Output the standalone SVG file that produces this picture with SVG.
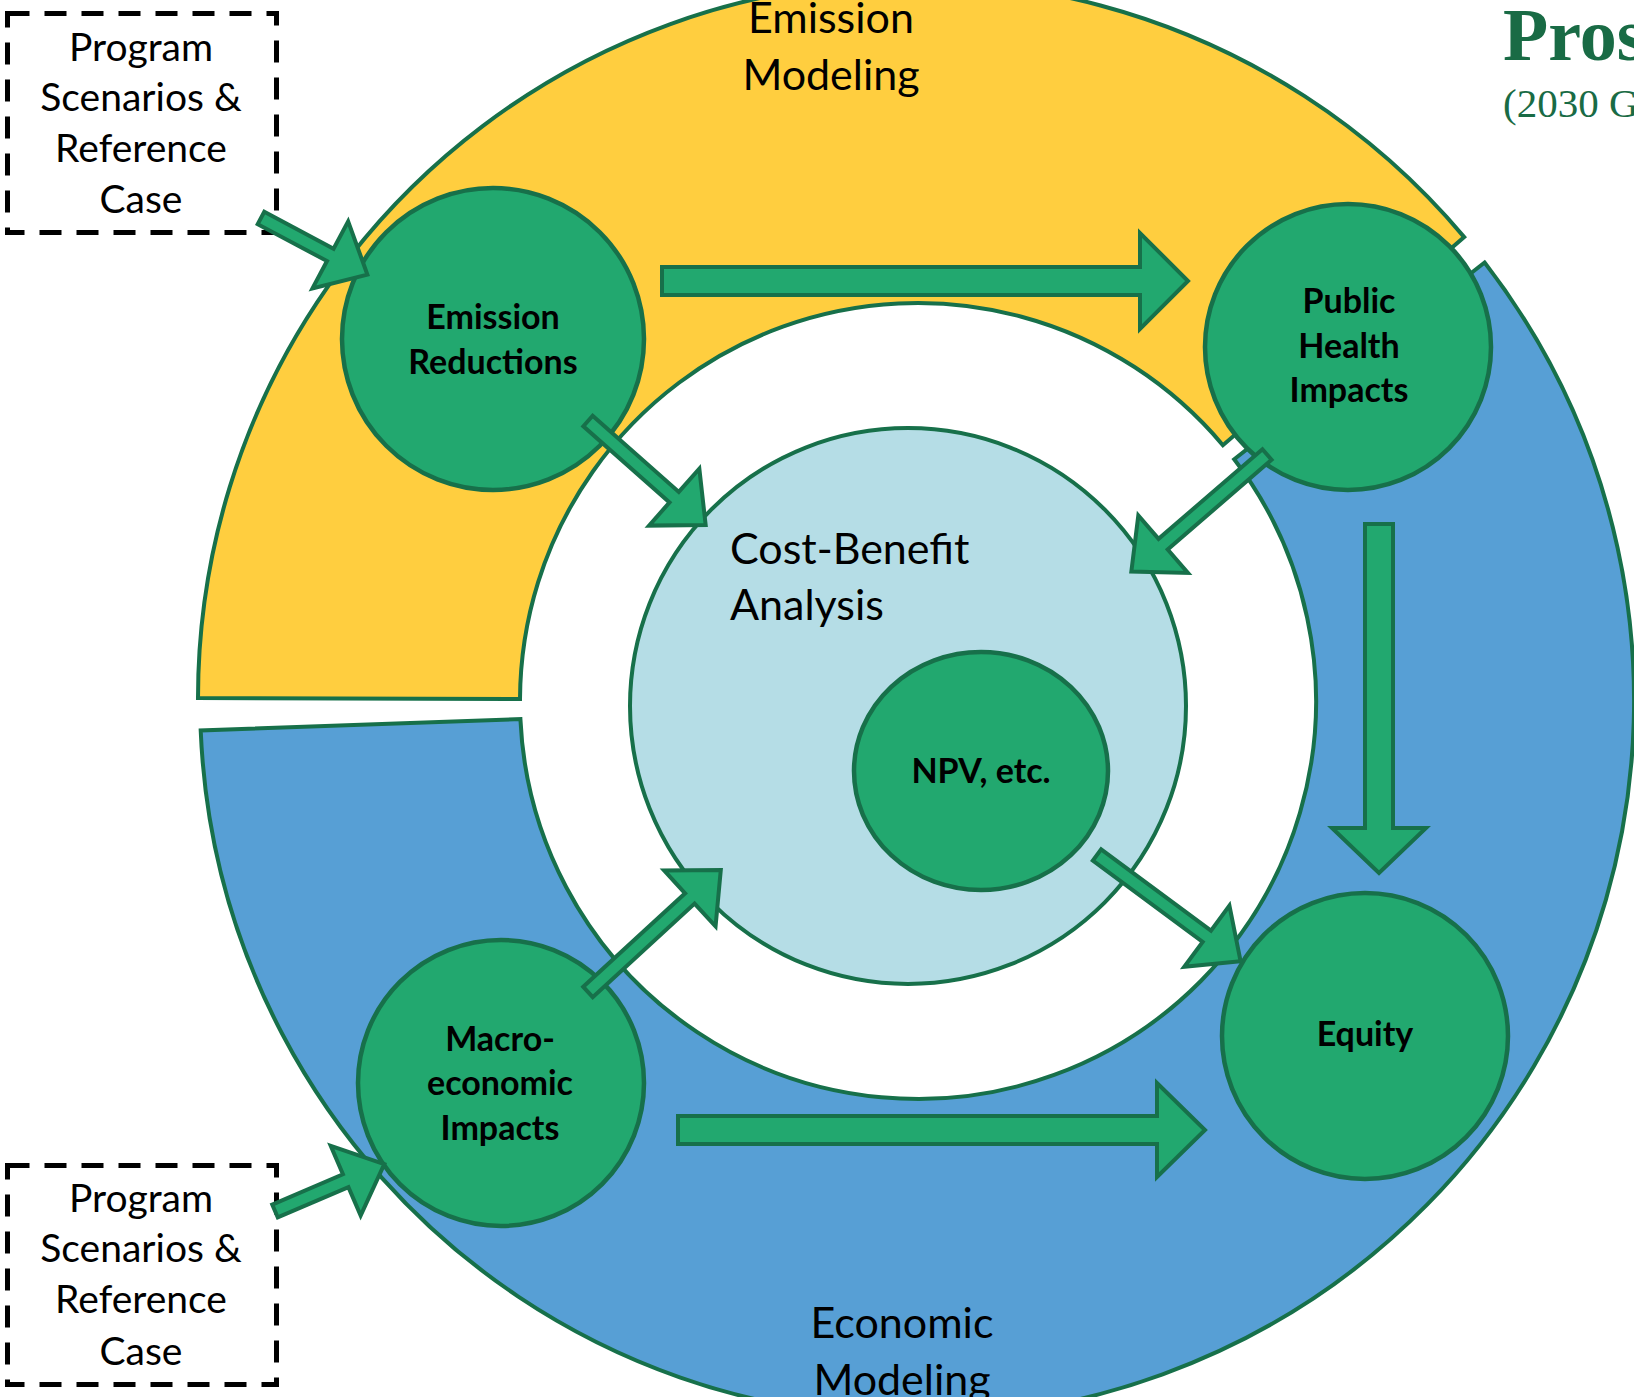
<svg xmlns="http://www.w3.org/2000/svg" width="1634" height="1397" viewBox="0 0 1634 1397">
<style>
.ring{stroke:#17704A;stroke-width:4;stroke-linejoin:miter}
.node{fill:#22A86F;stroke:#17704A;stroke-width:4.5}
.arrow{fill:#22A86F;stroke:#17704A;stroke-width:4;stroke-linejoin:miter}
.box{fill:none;stroke:#000;stroke-width:5;stroke-dasharray:22 15}
.lbl{font-family:Lato,"Open Sans",sans-serif;font-size:43px;fill:#000;text-anchor:middle}
.blbl{font-family:Lato,"Open Sans",sans-serif;font-size:34px;font-weight:700;fill:#000;text-anchor:middle}
.boxt{font-family:Lato,"Open Sans",sans-serif;font-size:39px;fill:#000;text-anchor:middle}
</style>
<rect width="1634" height="1397" fill="#fff"/>
<g id="emission-modeling">
<path class="ring" fill="#FFCE3F" d="M198,698 A717,717 0 0 1 1464.2,237.1 L1222.9,445.2 A398,398 0 0 0 520,699 Z"/>
<text class="lbl" x="831" y="33">Emission</text>
<text class="lbl" x="831" y="90">Modeling</text>
</g>
<g id="economic-modeling">
<path class="ring" fill="#579FD5" d="M1484.6,262.5 A717,717 0 1 1 200.7,730.5 L520.4,719.1 A398,398 0 1 0 1234.2,459.3 Z"/>
<text class="lbl" x="902" y="1338">Economic</text>
<text class="lbl" x="902" y="1395">Modeling</text>
</g>
<g id="cost-benefit">
<circle cx="908" cy="706" r="278" fill="#B5DDE6" stroke="#17704A" stroke-width="4"/>
<text class="lbl" style="text-anchor:start" x="730" y="564">Cost-Benefit</text>
<text class="lbl" style="text-anchor:start" x="730" y="620">Analysis</text>
</g>
<g id="npv">
<ellipse class="node" cx="981" cy="771" rx="127" ry="119"/>
<text class="blbl" x="981" y="783">NPV, etc.</text>
</g>
<g id="emission-reductions">
<circle class="node" cx="493" cy="339" r="151"/>
<text class="blbl" x="493" y="329">Emission</text>
<text class="blbl" x="493" y="374">Reductions</text>
</g>
<g id="public-health">
<circle class="node" cx="1348" cy="347" r="143"/>
<text class="blbl" x="1349" y="313">Public</text>
<text class="blbl" x="1349" y="358">Health</text>
<text class="blbl" x="1349" y="402">Impacts</text>
</g>
<g id="macro">
<circle class="node" cx="501" cy="1083" r="143"/>
<text class="blbl" x="500" y="1051">Macro-</text>
<text class="blbl" x="500" y="1095">economic</text>
<text class="blbl" x="500" y="1140">Impacts</text>
</g>
<g id="equity">
<circle class="node" cx="1365" cy="1036" r="143"/>
<text class="blbl" x="1365" y="1046">Equity</text>
</g>
<g id="scenarios-top">
<rect class="box" x="7.5" y="13.5" width="269" height="219"/>
<text class="boxt" x="141" y="61">Program</text>
<text class="boxt" x="141" y="111">Scenarios &amp;</text>
<text class="boxt" x="141" y="162">Reference</text>
<text class="boxt" x="141" y="213">Case</text>
</g>
<g id="scenarios-bottom">
<rect class="box" x="7.5" y="1165.5" width="269" height="219"/>
<text class="boxt" x="141" y="1212">Program</text>
<text class="boxt" x="141" y="1262">Scenarios &amp;</text>
<text class="boxt" x="141" y="1313">Reference</text>
<text class="boxt" x="141" y="1365">Case</text>
</g>
<g id="connectors">
<path class="arrow" d="M662,267 H1140 V233 L1188,281 L1140,329 V295 H662 Z"/>
<path class="arrow" d="M678,1116 H1157 V1083 L1205,1130 L1157,1177 V1144 H678 Z"/>
<path class="arrow" d="M1365,524 V828 H1332 L1379,873 L1426,828 H1393 V524 Z"/>
<path class="arrow" transform="translate(588,421) rotate(41.46)" d="M0,-7 H115 V-38 L157,0 L115,38 V7 H0 Z"/>
<path class="arrow" transform="translate(1097,855) rotate(36.49)" d="M0,-7 H136.6 V-38 L178.6,0 L136.6,38 V7 H0 Z"/>
<path class="arrow" transform="translate(588,992) rotate(-42.57)" d="M0,-7 H138.3 V-38 L180.3,0 L138.3,38 V7 H0 Z"/>
<path class="arrow" transform="translate(261,218) rotate(28.02)" d="M0,-7 H78.5 V-38 L120.5,0 L78.5,38 V7 H0 Z"/>
<path class="arrow" transform="translate(275,1211) rotate(-23.2)" d="M0,-7 H76.9 V-38 L118.9,0 L76.9,38 V7 H0 Z"/>
<path class="arrow" transform="translate(1267,454.5) rotate(139.2)" d="M0,-7 H137.2 V-38 L179.2,0 L137.2,38 V7 H0 Z"/>
</g>
<g id="title">
<text x="1503" y="60" font-family="'Liberation Serif',serif" font-weight="700" font-size="74" fill="#196B45">Pros</text>
<text x="1503" y="117" font-family="'Liberation Serif',serif" font-size="41" fill="#196B45">(2030 G</text>
</g>
</svg>
